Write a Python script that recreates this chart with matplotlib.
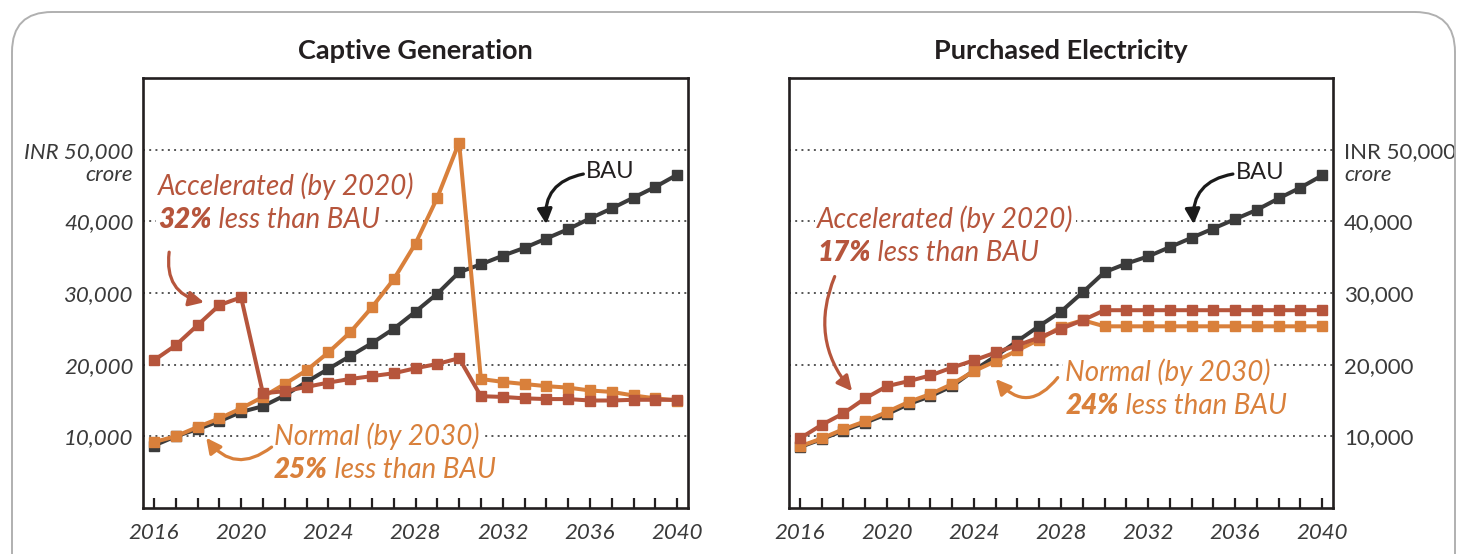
import matplotlib
matplotlib.use("Agg")
import matplotlib.pyplot as plt
from matplotlib.patches import FancyBboxPatch

plt.rcParams['font.family'] = ['Lato', 'DejaVu Sans']

years = list(range(2016, 2041))

# Captive generation (INR crore)
cap_bau = [8700, 10000, 11000, 12100, 13400, 14200, 15700, 17600, 19400, 21200,
           23000, 25000, 27400, 29900, 32900, 34000, 35200, 36300, 37600, 38900,
           40400, 41800, 43300, 44800, 46500]
cap_normal = [9200, 10000, 11300, 12500, 13900, 15500, 17300, 19200, 21700, 24500,
              28000, 31900, 36900, 43300, 51000, 18000, 17600, 17300, 17000, 16800,
              16400, 16200, 15700, 15300, 15000]
cap_accel = [20600, 22700, 25500, 28300, 29400, 16000, 16300, 16900, 17500, 18000,
             18400, 18800, 19500, 20100, 20900, 15600, 15500, 15300, 15200, 15200,
             15000, 15000, 15100, 15100, 15100]

# Purchased electricity (INR crore)
pur_bau = [8500, 9600, 10800, 11900, 13100, 14500, 15600, 17000, 19200, 21200,
           23300, 25400, 27400, 30100, 32900, 34100, 35100, 36400, 37700, 39000,
           40300, 41600, 43200, 44700, 46400]
pur_normal = [8600, 9700, 11000, 12100, 13400, 14800, 15900, 17300, 19100, 20500,
              22000, 23500, 25300, 26200, 25350, 25350, 25350, 25350, 25350, 25350,
              25350, 25350, 25350, 25350, 25350]
pur_accel = [9700, 11600, 13200, 15300, 17000, 17700, 18500, 19600, 20600, 21700,
             22700, 23800, 25000, 26200, 27600, 27600, 27600, 27600, 27600, 27600,
             27600, 27600, 27600, 27600, 27600]

yticks = [10000, 20000, 30000, 40000, 50000]
ylabels = ['10,000', '20,000', '30,000', '40,000', 'INR 50,000']

C_BAU = '#3b3b3b'
C_NORM = '#d9803b'
C_ACC = '#b6553c'
C_TXT = '#3a3a3a'
C_AX = '#231f20'

fig = plt.figure(figsize=(14.57, 5.54), dpi=100)

# rounded frame
frame = FancyBboxPatch((0.12, -0.6), 14.43, 6.02, boxstyle="round,pad=0,rounding_size=0.4",
                       transform=fig.dpi_scale_trans, fill=False, edgecolor='#b0b0b0',
                       linewidth=1.4, zorder=0)
fig.patches.append(frame)

ax1 = fig.add_axes([143/1457, 46/554, 545/1457, 430/554])
ax2 = fig.add_axes([789/1457, 46/554, 544/1457, 430/554])


def style_axes(ax, title, right=False):
    ax.set_xlim(2015.5, 2040.5)
    ax.set_ylim(0, 60000)
    ax.set_xticks(years)
    ax.set_xticklabels([str(y) if (y - 2016) % 4 == 0 else '' for y in years])
    ax.set_yticks(yticks)
    ax.set_yticklabels(ylabels)
    ax.tick_params(axis='x', direction='in', length=7, width=1.6, color=C_AX,
                   labelsize=16, labelcolor=C_TXT, pad=11)
    ax.tick_params(axis='y', length=0, labelsize=16, labelcolor=C_TXT, pad=7)
    for lab in ax.get_xticklabels() + ax.get_yticklabels():
        lab.set_fontstyle('italic')
    for s in ax.spines.values():
        s.set_linewidth(1.9)
        s.set_color(C_AX)
    ax.grid(axis='y', linestyle=(0, (1, 2.2)), color='#555555', linewidth=1.4, zorder=0.5)
    ax.set_axisbelow(True)
    ax.set_title(title, fontsize=19.5, fontweight='bold', color=C_AX, pad=14)
    if right:
        ax.yaxis.tick_right()
        ax.tick_params(axis='y', length=0, pad=8)
        ax.annotate('crore', xy=(1, 50000), xycoords=ax.get_yaxis_transform(),
                    xytext=(8, -11), textcoords='offset points', ha='left', va='top',
                    fontsize=16, fontstyle='italic', color=C_TXT)
    else:
        ax.annotate('crore', xy=(0, 50000), xycoords=ax.get_yaxis_transform(),
                    xytext=(-7, -11), textcoords='offset points', ha='right', va='top',
                    fontsize=16, fontstyle='italic', color=C_TXT)


def plot_series(ax, bau, normal, accel):
    kw = dict(marker='s', markersize=7.6, linewidth=2.9, solid_joinstyle='miter')
    ax.plot(years, bau, color=C_BAU, zorder=3, **kw)
    ax.plot(years, normal, color=C_NORM, zorder=4, **kw)
    ax.plot(years, accel, color=C_ACC, zorder=5, **kw)


def label(ax, x, y, line1, pct, color):
    box = dict(facecolor='white', edgecolor='none', pad=1.5)
    ax.text(x, y, line1, fontsize=20, fontstyle='italic', color=color,
            va='center', ha='left', bbox=box, zorder=2)
    t = ax.text(x, y - 4650, pct, fontsize=20, fontstyle='italic', fontweight='heavy',
                color=color, va='center', ha='left', bbox=box, zorder=2)
    ax.annotate(' less than BAU', xy=(1, 0.5), xycoords=t, va='center', ha='left',
                fontsize=20, fontstyle='italic', color=color, bbox=box, zorder=2)


def arrow(ax, tail, head, rad, color):
    ax.annotate('', xy=head, xytext=tail,
                arrowprops=dict(arrowstyle='-|>,head_length=0.9,head_width=0.45',
                                connectionstyle='arc3,rad=%s' % rad, lw=2.3,
                                color=color, shrinkA=0, shrinkB=0), zorder=6)


style_axes(ax1, 'Captive Generation')
style_axes(ax2, 'Purchased Electricity', right=True)
plot_series(ax1, cap_bau, cap_normal, cap_accel)
plot_series(ax2, pur_bau, pur_normal, pur_accel)

# Captive annotations
label(ax1, 2016.2, 44900, 'Accelerated (by 2020)', '32%', C_ACC)
arrow(ax1, (2016.7, 35700), (2018.3, 28700), 0.45, C_ACC)
label(ax1, 2021.5, 10000, 'Normal (by 2030)', '25%', C_NORM)
arrow(ax1, (2021.4, 8500), (2018.4, 9800), -0.5, C_NORM)
ax1.text(2035.8, 46900, 'BAU', fontsize=17, color=C_AX, va='center', ha='left')
arrow(ax1, (2035.7, 46600), (2034.0, 39600), 0.45, '#1a1a1a')

# Purchased annotations
label(ax2, 2016.8, 40250, 'Accelerated (by 2020)', '17%', C_ACC)
arrow(ax2, (2017.6, 32300), (2018.4, 16300), 0.3, C_ACC)
label(ax2, 2028.2, 18900, 'Normal (by 2030)', '24%', C_NORM)
arrow(ax2, (2027.85, 18200), (2025.0, 18000), -0.6, C_NORM)
ax2.text(2036.05, 46800, 'BAU', fontsize=17, color=C_AX, va='center', ha='left')
arrow(ax2, (2035.9, 46600), (2034.1, 39600), 0.45, '#1a1a1a')

fig.savefig('out.png', dpi=100)
